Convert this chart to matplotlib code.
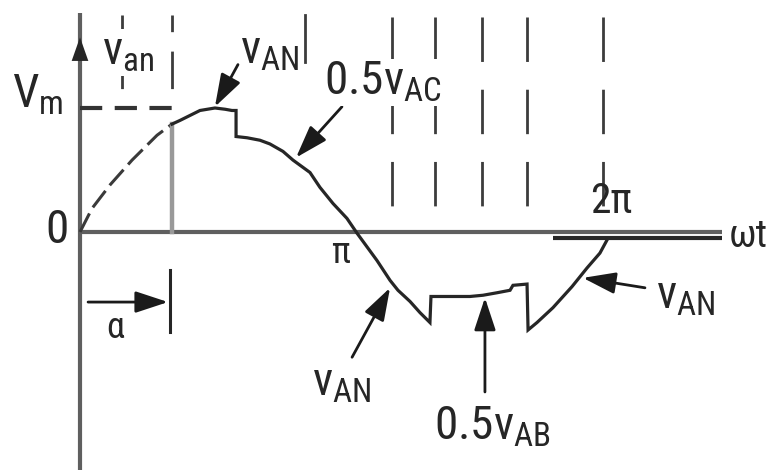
import matplotlib
matplotlib.use("Agg")
import matplotlib.pyplot as plt
from matplotlib import font_manager

# output phase voltage v_an, wt in degrees, value in units of Vm
wt = [62.7, 62.7, 68.2, 75.0, 81.8, 92.0, 98.9, 103.6, 106.4, 106.4,
      113.9, 122.7, 129.5, 138.4, 145.2, 156.8, 163.6, 172.5, 182.0, 188.9,
      195.7, 202.5, 211.4, 216.8, 225.0, 231.8, 238.6, 239.3, 252.3, 265.9,
      274.8, 284.3, 293.2, 295.2, 304.8, 305.5, 311.6, 322.5, 335.5, 345.7,
      354.5, 360.0]
van = [0.0, 0.87, 0.90, 0.94, 0.98, 1.0, 0.99, 0.98, 0.98, 0.77,
       0.76, 0.74, 0.71, 0.65, 0.58, 0.48, 0.36, 0.23, 0.11, -0.01,
       -0.12, -0.23, -0.39, -0.47, -0.56, -0.65, -0.73, -0.52, -0.52, -0.52,
       -0.51, -0.49, -0.47, -0.43, -0.42, -0.79, -0.73, -0.61, -0.44, -0.29,
       -0.17, -0.05]

# dashed supply sine before firing
wt_sine = [0.0, 8.2, 20.5, 35.5, 52.5, 62.7]
v_sine = [0.0, 0.19, 0.38, 0.58, 0.78, 0.87]

# peak level Vm
wt_peak = [0.0, 69.5]
v_peak = [1.0, 1.0]

# dark trace along the axis after the cycle
wt_tail = [322.5, 437.7]
v_tail = [-0.045, -0.045]

alpha = 61.4
axis_end = 437.7

# vertical dashed guides
guides_short = [28.6, 62.7]
guide_mid = 153.4
guides_long = [212.7, 242.0, 274.1, 304.8, 356.6]

# pixel layout of the scanned figure
W, H = 769, 476
x_org, y_org = 80, 232
px_deg = 528 / 360
px_vm = 124

names = {f.name for f in font_manager.fontManager.ttflist}
fam = "Liberation Sans"
for f in ["Liberation Sans Narrow", "Roboto Condensed", "Liberation Sans"]:
    if f in names:
        fam = f
        break
plt.rcParams["font.family"] = [fam, "DejaVu Sans"]
plt.rcParams["mathtext.fontset"] = "custom"
plt.rcParams["mathtext.rm"] = fam
plt.rcParams["lines.scale_dashes"] = False

fig = plt.figure(figsize=(W / 100, H / 100), dpi=100)
ax = fig.add_axes([0, 0, 1, 1])
ax.set_xlim(-x_org / px_deg, (W - x_org) / px_deg)
ax.set_ylim((y_org - H) / px_vm, y_org / px_vm)
ax.axis("off")

ink = "#262626"
grey = "#5f5f5f"

# axes
ax.plot([0, axis_end], [0, 0], color=grey, lw=3.0, solid_capstyle="butt")
ax.plot([0, 0], [-1.92, 1.77], color=grey, lw=3.0, solid_capstyle="butt")
ax.annotate("", xy=(0, 1.57), xytext=(0, 1.2),
            arrowprops=dict(arrowstyle="-|>,head_length=0.85,head_width=0.3",
                            mutation_scale=20, lw=0, color=ink,
                            shrinkA=0, shrinkB=0))
ax.plot(wt_tail, v_tail, color=ink, lw=3.0, solid_capstyle="butt")

# guides
for g in guides_short:
    ax.plot([g, g], [1.75, 1.145], color="#3c3c3c", lw=2.0,
            dashes=(12, 14, 27, 14))
ax.plot([guide_mid, guide_mid], [1.75, 1.37], color="#3c3c3c", lw=2.0)
for g in guides_long:
    ax.plot([g, g], [1.73, 0.18], color="#3c3c3c", lw=2.0, dashes=(32, 20))

# dashed sine and Vm level
ax.plot(wt_sine, v_sine, color="#3a3a3a", lw=2.2, dashes=(15, 5))
ax.plot(wt_peak, v_peak, color="#333333", lw=3.0, dashes=(16, 9))

# firing instant (light jump), then the conducting waveform
ax.plot(wt[:2], van[:2], color="#999999", lw=3.2)
ax.plot(wt[1:], van[1:], color=ink, lw=2.3, solid_joinstyle="miter")


def pointer(tail, head):
    ax.annotate("", xy=head, xytext=tail,
                arrowprops=dict(arrowstyle="-|>,head_length=1.0,head_width=0.33",
                                mutation_scale=20, lw=2.0, color="#1a1a1a",
                                shrinkA=0, shrinkB=0))


pointer((107.7, 1.35), (92.0, 1.01))
pointer((178.6, 1.01), (147.3, 0.60))
pointer((185.5, -1.01), (211.4, -0.45))
pointer((276.1, -1.29), (276.1, -0.53))
pointer((385.2, -0.45), (342.9, -0.37))
pointer((5.5, -0.565), (60.0, -0.565))
ax.plot([alpha, alpha], [-0.31, -0.81], color=ink, lw=2.2)

mask = dict(facecolor="white", edgecolor="none", pad=1)
fs = 34
sub = r"$_{\mathregular{%s}}$"

ax.text(-29.0, 1.008, "V" + sub % "m", fontsize=fs, ha="center", va="baseline", color=ink)
ax.text(-15.7, 0.02, "0", fontsize=fs, ha="center", va="center", color=ink)
ax.text(32.7, 1.35, "v" + sub % "an", fontsize=fs, ha="center", va="baseline",
        color=ink, bbox=mask)
ax.text(129.5, 1.36, "v" + sub % "AN", fontsize=fs, ha="center", va="baseline", color=ink)
ax.text(206.6, 1.105, "0.5v" + sub % "AC", fontsize=fs, ha="center", va="baseline",
        color=ink, bbox=mask)
ax.text(177.3, -0.17, "π", fontsize=26, ha="center", va="center", color=ink)
ax.text(362.0, 0.25, "2π", fontsize=30, ha="center", va="center", color=ink)
ax.text(455.5, -0.04, "ωt", fontsize=28, ha="center", va="center", color=ink)
ax.text(23.9, -0.774, "α", fontsize=26, ha="center", va="center", color=ink)
ax.text(178.6, -1.315, "v" + sub % "AN", fontsize=fs, ha="center", va="baseline", color=ink)
ax.text(280.9, -1.677, "0.5v" + sub % "AB", fontsize=fs, ha="center", va="baseline", color=ink)
ax.text(413.2, -0.613, "v" + sub % "AN", fontsize=fs, ha="center", va="baseline", color=ink)

fig.savefig("out.png", dpi=100, facecolor="white")
